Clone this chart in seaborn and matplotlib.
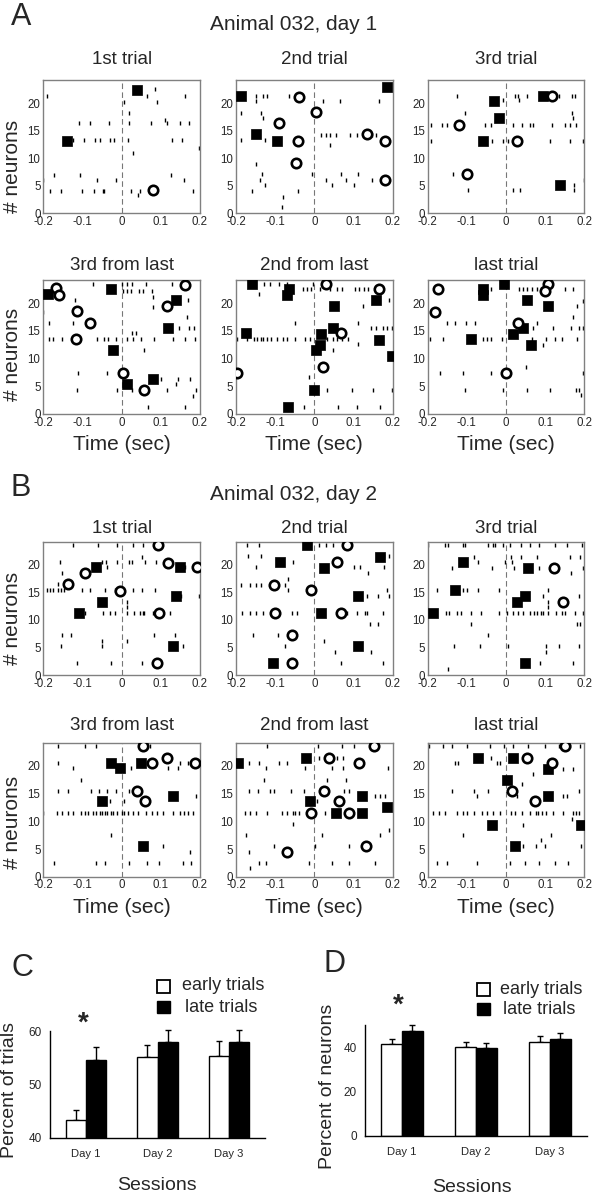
import numpy as np
import pandas as pd
import matplotlib
matplotlib.use("Agg")
import matplotlib.pyplot as plt
from matplotlib import font_manager
from matplotlib.patches import Rectangle
import seaborn as sns

# ---------------- data: raster panels (time in s, neuron #) ----------------
# A: Animal 032, day 1
A1_SQ = [(0.038, 22.4), (-0.14, 13.1)]
A1_CI = [(0.079, 4.1)]
A1_TK = {22.5: [0.086], 21.3: [-0.19, 0.064, 0.162], 20.2: [0.006, 0.091], 18.2: [0.018], 17.0: [0.11],
         16.3: [-0.109, -0.081, -0.032, 0.02, 0.075, 0.117, 0.149, 0.172],
         13.2: [-0.125, -0.096, -0.068, -0.054, -0.031, -0.02, 0.017, 0.128, 0.153],
         11.8: [0.198], 11.0: [0.03], 7.0: [-0.172, -0.106, 0.125], 6.0: [-0.2, -0.062, -0.014, 0.16],
         4.0: [-0.183, -0.155, -0.1, -0.07, -0.048, -0.045, 0.023, 0.047, 0.183], 3.2: [0.043]}

A2_SQ = [(-0.188, 21.3), (-0.15, 14.3), (-0.096, 13.1), (0.185, 23.0)]
A2_CI = [(-0.09, 16.3), (-0.042, 13.1), (-0.04, 21.1), (-0.047, 9.1), (0.004, 18.4), (0.135, 14.3),
         (0.18, 13.1), (0.18, 6.0)]
A2_TK = {21.3: [-0.149, -0.13, -0.122, -0.064], 20.3: [-0.149, 0.022, 0.065, 0.164], 18.2: [-0.188, -0.135],
         17.2: [-0.13], 14.2: [0.016, 0.031, 0.041, 0.055, 0.092, 0.109, 0.124, 0.146, 0.157],
         13.3: [-0.188, -0.126], 12.3: [0.041], 9.0: [-0.15], 7.1: [-0.133, -0.007, 0.067, 0.112],
         6.0: [-0.14, 0.031, 0.082, 0.146], 5.1: [-0.126, 0.045, 0.101], 4.0: [-0.16, -0.043],
         3.0: [-0.08], 1.1: [-0.083]}

A3_SQ = [(0.094, 21.3), (-0.03, 20.3), (-0.017, 17.2), (-0.06, 13.1), (0.138, 5.1)]
A3_CI = [(0.117, 21.3), (-0.119, 16.1), (0.029, 13.1), (-0.099, 7.1)]
A3_TK = {21.3: [-0.126, 0.023, 0.031, 0.053, 0.134, 0.168, 0.177], 20.5: [-0.009, 0.033],
         18.2: [-0.105, 0.168], 17.2: [0.172],
         16.1: [-0.192, -0.164, -0.15, -0.054, -0.039, 0.019, 0.04, 0.06, 0.07, 0.117, 0.151, 0.163, 0.179],
         13.1: [-0.192, -0.037, -0.007, 0.006, 0.111, 0.162, 0.197], 7.1: [-0.136], 6.0: [0.199],
         5.1: [0.174], 4.1: [-0.096, 0.017, 0.036, 0.174]}

A4_SQ = [(-0.187, 21.6), (-0.027, 22.5), (-0.023, 11.5), (0.013, 5.4), (0.079, 6.4), (0.139, 20.5), (0.119, 15.5)]
A4_CI = [(-0.168, 22.7), (-0.159, 21.5), (-0.115, 18.6), (-0.081, 16.4), (-0.117, 13.5), (0.003, 7.4),
         (0.057, 4.3), (0.115, 19.5), (0.162, 23.3)]
A4_TK = {23.5: [-0.074, 0.0, 0.013, 0.026, 0.062, 0.128, 0.166], 22.3: [0.004, 0.014, 0.023, 0.045, 0.055, 0.077],
         21.2: [0.081], 20.5: [-0.119, 0.17], 19.3: [0.081], 18.4: [-0.2], 17.5: [0.168], 16.5: [-0.185, -0.123],
         15.5: [0.147, 0.173, 0.185], 14.6: [0.026, 0.037],
         13.5: [-0.185, -0.174, -0.151, -0.062, -0.045, -0.034, -0.014, 0.013, 0.03, 0.049, 0.083, 0.13, 0.162, 0.187],
         11.5: [0.057], 7.4: [-0.111, -0.037], 6.4: [0.1, 0.145, 0.174], 5.4: [0.14],
         4.3: [-0.115, -0.013, 0.026, 0.115, 0.19], 3.3: [0.181], 1.3: [0.066, 0.162]}

A5_SQ = [(-0.158, 23.5), (-0.175, 14.6), (-0.064, 22.5), (-0.069, 21.5), (-0.066, 1.3), (0.157, 20.6),
         (0.051, 19.5), (0.048, 15.5), (0.016, 14.5), (0.014, 12.5), (0.004, 11.6), (0.164, 13.4),
         (0.199, 10.5), (-0.001, 4.3)]
A5_CI = [(-0.197, 7.4), (0.03, 23.5), (0.164, 22.5), (0.067, 14.6), (0.023, 8.5)]
A5_TK = {23.5: [-0.129, -0.113, -0.089, -0.071, -0.003],
         22.5: [-0.028, -0.02, -0.009, 0.014, 0.04, 0.057, 0.07, 0.104, 0.115, 0.127, 0.138],
         21.6: [-0.141], 20.5: [0.191], 19.5: [0.123], 16.5: [-0.049, 0.112],
         15.5: [0.144, 0.157, 0.175, 0.186, 0.197],
         13.5: [-0.197, -0.173, -0.154, -0.146, -0.137, -0.13, -0.122, -0.111, -0.095, -0.081, -0.071, -0.049,
                -0.024, -0.011, 0.032, 0.047, 0.057, 0.07, 0.087],
         12.7: [0.112], 11.6: [0.047], 6.6: [-0.013], 4.3: [0.032, 0.095, 0.149, 0.197],
         1.3: [-0.026, 0.061, 0.108, 0.168]}

A6_SQ = [(-0.06, 22.5), (-0.058, 21.5), (-0.004, 23.4), (0.054, 20.5), (0.106, 19.5), (0.044, 15.5),
         (0.017, 14.4), (-0.089, 13.5), (0.064, 12.5)]
A6_CI = [(-0.174, 22.5), (-0.181, 18.5), (0.106, 23.5), (0.1, 22.3), (0.031, 16.5), (0.0, 7.4)]
A6_TK = {22.5: [-0.039, 0.034, 0.043, 0.054, 0.066, 0.078, 0.089, 0.151, 0.17], 20.4: [0.197], 19.5: [0.18],
         17.5: [0.172], 16.5: [-0.151, -0.13, -0.102, -0.079, 0.08], 15.5: [0.068, 0.121, 0.165, 0.185, 0.197],
         13.5: [-0.194, -0.16, -0.06, -0.049, -0.039, -0.011, 0.066, 0.102, 0.125, 0.142, 0.18],
         12.5: [0.095], 8.5: [0.05], 7.4: [-0.169, -0.111, -0.038, 0.197],
         4.3: [-0.106, -0.009, 0.053, 0.111, 0.179, 0.185], 3.4: [0.191]}

# B: Animal 032, day 2
B1_SQ = [(0.149, 19.6), (-0.066, 19.6), (-0.051, 13.3), (0.138, 14.4), (-0.11, 11.3), (0.132, 5.2)]
B1_CI = [(0.094, 23.6), (0.119, 20.4), (0.193, 19.6), (-0.094, 18.5), (-0.138, 16.5), (-0.003, 15.3),
         (0.096, 11.3), (0.089, 2.2)]
B1_TK = {23.6: [-0.123, -0.06, -0.013, 0.028, 0.055], 21.4: [0.051],
         20.6: [-0.157, -0.049, -0.04, -0.013, 0.02, 0.026, 0.06, 0.088], 19.6: [-0.037, 0.162],
         18.5: [-0.151], 16.5: [-0.162],
         15.5: [-0.191, -0.183, -0.174, -0.162, -0.155, -0.146, -0.102, -0.081, -0.043, -0.017, 0.028, 0.051, 0.085],
         14.4: [0.151, 0.198], 13.3: [0.013], 12.4: [0.014],
         11.3: [-0.094, -0.047, -0.03, -0.017, 0.013, 0.031, 0.047, 0.054, 0.058, 0.079, 0.123],
         7.3: [-0.151, -0.129, 0.083, 0.137], 6.2: [-0.051, 0.013], 5.3: [-0.155, -0.051, 0.157],
         2.2: [-0.113, -0.026, 0.051]}

B2_SQ = [(-0.105, 2.2), (-0.088, 20.5), (-0.02, 23.6), (0.168, 21.5), (0.025, 19.5), (0.112, 14.4),
         (0.016, 11.3), (0.112, 5.2)]
B2_CI = [(-0.058, 2.2), (-0.058, 7.3), (-0.1, 11.3), (-0.103, 16.4), (0.083, 23.6), (0.059, 20.5),
         (-0.009, 15.5), (0.067, 11.3)]
B2_TK = {23.6: [-0.173, -0.141, 0.012, 0.03, 0.048], 21.6: [-0.17, -0.137, 0.178, 0.191], 20.5: [-0.055],
         19.6: [-0.15, 0.1, 0.116, 0.178], 18.5: [0.138], 17.4: [-0.066],
         16.4: [-0.186, -0.165, -0.15, -0.137, -0.074], 15.5: [-0.066, 0.185], 14.4: [0.134, 0.162, 0.191],
         11.3: [-0.184, -0.165, -0.148, -0.131, -0.058, -0.045, 0.083, 0.11, 0.129, 0.134, 0.176],
         9.3: [0.143, 0.162], 7.3: [-0.156, -0.092], 6.2: [0.025], 5.2: [-0.074], 4.2: [0.053, 0.144],
         2.2: [0.068, 0.175]}

B3_SQ = [(-0.111, 20.5), (-0.13, 15.5), (-0.187, 11.3), (0.057, 19.5), (0.049, 14.4), (0.029, 13.3), (0.049, 2.2)]
B3_CI = [(0.123, 19.5), (0.145, 13.3)]
B3_TK = {23.6: [-0.198, -0.157, -0.147, -0.111, -0.105, -0.045, -0.034, -0.028, -0.009, 0.01, 0.037, 0.061,
                0.085, 0.125, 0.155, 0.193],
         21.5: [-0.082, 0.012, 0.037, 0.08, 0.163, 0.189], 20.5: [-0.071, -0.003, 0.015],
         19.5: [-0.139, -0.037, 0.02, 0.085, 0.111, 0.197], 18.5: [0.165],
         15.5: [-0.175, -0.109, -0.1, -0.071, -0.017, 0.106], 14.4: [0.094, 0.185], 13.3: [0.108], 12.4: [0.106],
         11.3: [-0.153, -0.145, -0.126, -0.115, -0.09, -0.064, -0.017, 0.002, 0.019, 0.031, 0.043, 0.061, 0.071,
                0.08, 0.089, 0.095, 0.108, 0.128, 0.142, 0.151, 0.176, 0.196],
         9.3: [-0.09, 0.18, 0.19], 7.3: [-0.045], 5.3: [-0.133, -0.066, 0.006, 0.102, 0.136, 0.187],
         4.2: [0.102], 2.2: [0.087, 0.17], 1.1: [-0.149]}

B4_SQ = [(-0.028, 20.5), (-0.004, 19.6), (0.049, 20.5), (-0.049, 13.6), (0.13, 14.5), (0.054, 5.5)]
B4_CI = [(0.055, 23.6), (0.077, 20.5), (0.117, 21.5), (0.188, 20.5), (0.038, 15.5), (0.06, 13.6)]
B4_TK = {23.6: [-0.162, -0.094, -0.066, 0.072], 20.5: [-0.162, 0.064, 0.149, 0.17],
         19.6: [-0.123, 0.023, 0.119, 0.143], 17.5: [-0.104],
         15.5: [-0.162, -0.136, -0.079, -0.059, -0.038, -0.014, 0.02], 14.5: [0.191], 13.6: [-0.03, 0.006],
         11.5: [-0.2, -0.164, -0.151, -0.136, -0.125, -0.104, -0.094, -0.087, -0.072, -0.066, -0.055, -0.049,
                -0.043, -0.037, -0.028, -0.021, -0.013, 0.0, 0.006, 0.017, 0.03, 0.041, 0.062, 0.077, 0.089,
                0.106, 0.132, 0.149, 0.16, 0.17, 0.183],
         7.5: [-0.028], 5.5: [0.106], 4.5: [0.174],
         2.4: [-0.172, -0.066, -0.043, 0.02, 0.064, 0.096, 0.156, 0.177]}

B5_SQ = [(-0.194, 20.5), (-0.021, 21.5), (-0.011, 13.6), (0.055, 11.5), (0.121, 11.5), (0.121, 14.5), (0.185, 12.5)]
B5_CI = [(-0.069, 4.5), (0.037, 21.5), (0.115, 20.5), (0.151, 23.6), (0.025, 15.5), (0.062, 13.6),
         (-0.009, 11.5), (0.089, 11.5), (0.132, 5.5)]
B5_TK = {23.6: [-0.122, 0.01, 0.07, 0.101], 21.5: [0.012, 0.059, 0.074], 20.5: [-0.168, -0.142, -0.091, -0.069],
         19.6: [-0.123, -0.023, 0.044, 0.074, 0.189], 17.5: [-0.128, 0.032, 0.081],
         15.5: [-0.168, -0.145, -0.112, -0.104, -0.06, -0.027, 0.076, 0.089], 14.5: [0.155, 0.168, 0.181],
         13.6: [0.006],
         11.5: [-0.177, -0.164, -0.149, -0.122, -0.083, -0.071, -0.055, -0.049, -0.038, 0.027, 0.044],
         9.6: [-0.055], 8.5: [0.19], 7.5: [-0.174, 0.02, 0.168], 5.5: [-0.104, 0.002, 0.089], 4.5: [-0.168],
         2.4: [-0.142, -0.123, -0.013, 0.044, 0.089, 0.155], 1.5: [-0.165]}

B6_SQ = [(-0.071, 21.5), (0.019, 21.5), (0.106, 19.5), (0.003, 17.5), (0.106, 14.5), (-0.037, 9.4),
         (0.191, 9.4), (0.023, 5.5)]
B6_CI = [(0.151, 23.6), (0.053, 21.5), (0.117, 20.5), (0.014, 15.5), (0.074, 13.6)]
B6_TK = {23.6: [-0.196, -0.16, -0.139, -0.099, -0.041, -0.005, 0.019, 0.057, 0.1, 0.134, 0.163, 0.189],
         21.5: [-0.039], 20.5: [-0.13, -0.122, -0.024, -0.015], 19.5: [0.146, 0.172], 18.5: [0.07],
         16.7: [0.04], 15.5: [-0.139, -0.082, -0.047, 0.187], 14.5: [-0.075, 0.027, 0.146, 0.155],
         11.5: [-0.186, -0.17, -0.156, -0.124, -0.111, -0.099, -0.082, -0.062, -0.049, -0.034, -0.015, 0.012,
                0.023, 0.04, 0.061, 0.077, 0.082, 0.091, 0.102, 0.121, 0.146, 0.17, 0.179, 0.187],
         10.5: [0.168], 9.4: [0.044], 7.5: [-0.109, 0.114], 6.6: [0.089], 5.5: [0.043, 0.077, 0.1, 0.191],
         2.4: [-0.177, -0.151, -0.073, 0.009, 0.049, 0.083, 0.125, 0.159]}

TRIAL_TITLES = ["1st trial", "2nd trial", "3rd trial", "3rd from last", "2nd from last", "last trial"]
X_TICKS = [-0.2, -0.1, 0, 0.1, 0.2]
X_TICKLABELS = ["-0.2", "-0.1", "0", "0.1", "0.2"]
Y_TICKS = [0, 5, 10, 15, 20]

# ---------------- data: bar panels ----------------
SESSIONS = ["Day 1", "Day 2", "Day 3"]
GROUPS = ["early trials", "late trials"]
C_EARLY = [43.3, 55.1, 55.4]
C_LATE = [54.6, 57.9, 58.0]
C_EARLY_ERR = [1.9, 2.3, 2.7]
C_LATE_ERR = [2.5, 2.2, 2.25]
D_EARLY = [41.4, 40.0, 42.4]
D_LATE = [47.5, 39.7, 43.9]
D_EARLY_ERR = [2.2, 2.4, 2.6]
D_LATE_ERR = [2.3, 2.4, 2.3]

# ---------------- style ----------------
sns.set_style("white")
plt.rcParams["font.family"] = ["Liberation Sans", "DejaVu Sans"]
avail = {f.name for f in font_manager.fontManager.ttflist}
NARROW = "Liberation Sans Narrow" if "Liberation Sans Narrow" in avail else "Liberation Sans"
NARROW_SCALE = 1.0 if NARROW == "Liberation Sans Narrow" else 0.85

W, H = 602, 1200
fig = plt.figure(figsize=(W / 100, H / 100), dpi=100)


def fx(px):
    return px / W


def fy(py):
    return 1 - py / H


def raster(ax, sq, ci, tk, title, pad, xlabel):
    tk_df = pd.DataFrame([(x, y) for y, xs in tk.items() for x in xs], columns=["t", "n"])
    sq_df = pd.DataFrame(sq, columns=["t", "n"])
    ci_df = pd.DataFrame(ci, columns=["t", "n"])
    ax.axvline(0, color="#777777", lw=0.8, dashes=(5, 3), zorder=1)
    sns.scatterplot(data=tk_df, x="t", y="n", marker="|", s=12, color="black", linewidth=1.0, ax=ax, zorder=2)
    sns.scatterplot(data=sq_df, x="t", y="n", marker="s", s=62, color="black", edgecolor="black",
                    linewidth=0.5, ax=ax, zorder=3)
    sns.scatterplot(data=ci_df, x="t", y="n", marker="o", s=46, color="white", edgecolor="black",
                    linewidth=1.9, ax=ax, zorder=4)
    ax.set_xlim(-0.2, 0.2)
    ax.set_ylim(0, 24.2)
    ax.set_xticks(X_TICKS)
    ax.set_xticklabels(X_TICKLABELS)
    ax.set_yticks(Y_TICKS)
    ax.tick_params(labelsize=8.3, length=2, direction="in", color="#808080", pad=2)
    for s in ax.spines.values():
        s.set_color("#808080")
        s.set_linewidth(1.0)
    ax.set_title(title, fontsize=13.5, pad=pad)
    if xlabel:
        ax.set_xlabel("Time (sec)", fontsize=15, labelpad=4.5)
    else:
        ax.set_xlabel("")
    ax.set_ylabel("")


col_left = [43.3, 236.0, 427.7]
col_w = 156.7
rows = [  # (top px, bottom px, title pad, xlabel)
    (80, 213, 11.5, False),
    (280, 414, 7.5, True),
    (541.7, 675, 6.5, False),
    (742.7, 876.7, 9, True),
]
panels = [
    [(A1_SQ, A1_CI, A1_TK), (A2_SQ, A2_CI, A2_TK), (A3_SQ, A3_CI, A3_TK)],
    [(A4_SQ, A4_CI, A4_TK), (A5_SQ, A5_CI, A5_TK), (A6_SQ, A6_CI, A6_TK)],
    [(B1_SQ, B1_CI, B1_TK), (B2_SQ, B2_CI, B2_TK), (B3_SQ, B3_CI, B3_TK)],
    [(B4_SQ, B4_CI, B4_TK), (B5_SQ, B5_CI, B5_TK), (B6_SQ, B6_CI, B6_TK)],
]
for r, (top, bot, pad, xl) in enumerate(rows):
    for c in range(3):
        ax = fig.add_axes([fx(col_left[c]), fy(bot), fx(col_w), (bot - top) / H])
        sq, ci, tk = panels[r][c]
        raster(ax, sq, ci, tk, TRIAL_TITLES[(r % 2) * 3 + c], pad, xl)

for yc in [166, 354, 618, 822]:
    fig.text(fx(13), fy(yc), "# neurons", rotation=90, ha="center", va="center", fontsize=15)

fig.text(fx(21), fy(17), "A", fontsize=22, ha="center", va="center")
fig.text(fx(21), fy(488), "B", fontsize=22, ha="center", va="center")
fig.text(fx(294), fy(24), "Animal 032, day 1", fontsize=15, ha="center", va="center")
fig.text(fx(294), fy(494), "Animal 032, day 2", fontsize=15, ha="center", va="center")


# ---------------- bar panels ----------------
def bars(ax, early, late, e_err, l_err, ylim, yticks):
    df = pd.DataFrame({"session": SESSIONS * 2,
                       "group": [GROUPS[0]] * 3 + [GROUPS[1]] * 3,
                       "value": early + late})
    sns.barplot(data=df, x="session", y="value", hue="group", hue_order=GROUPS,
                palette={GROUPS[0]: "white", GROUPS[1]: "black"}, edgecolor="black", linewidth=1.0,
                width=0.56, errorbar=None, legend=False, ax=ax, zorder=2)
    errs = e_err + l_err
    for p, e in zip(ax.patches, errs):
        xc = p.get_x() + p.get_width() / 2
        ax.errorbar([xc], [p.get_height()], yerr=[[0], [e]], fmt="none", ecolor="black",
                    elinewidth=1.0, capsize=2.5, capthick=1.0, clip_on=False, zorder=1)
    ax.set_xlim(-0.5, 2.5)
    ax.set_ylim(*ylim)
    ax.set_yticks(yticks)
    ax.set_xticks([0, 1, 2])
    ax.set_xticklabels(SESSIONS, family=NARROW, fontsize=9.5 * NARROW_SCALE)
    ax.set_yticklabels([str(v) for v in yticks], family=NARROW, fontsize=10 * NARROW_SCALE)
    ax.set_xticks([0.5, 1.5, 2.5], minor=True)
    ax.tick_params(axis="x", which="major", length=0, pad=8)
    ax.tick_params(axis="x", which="minor", length=4, direction="out", width=1, color="black")
    ax.tick_params(axis="y", length=4, direction="out", width=1, color="black", pad=2)
    for s in ["top", "right"]:
        ax.spines[s].set_visible(False)
    for s in ["left", "bottom"]:
        ax.spines[s].set_color("black")
        ax.spines[s].set_linewidth(1.0)
    ax.set_xlabel("")
    ax.set_ylabel("")


axC = fig.add_axes([fx(50), fy(1138), fx(215), 107 / H])
bars(axC, C_EARLY, C_LATE, C_EARLY_ERR, C_LATE_ERR, (40, 60), [40, 50, 60])
axD = fig.add_axes([fx(365), fy(1136), fx(222), 111 / H])
bars(axD, D_EARLY, D_LATE, D_EARLY_ERR, D_LATE_ERR, (0, 50), [0, 20, 40])

fig.text(fx(10), fy(1090), "Percent of trials", rotation=90, ha="center", va="center", fontsize=14)
fig.text(fx(328), fy(1086), "Percent of neurons", rotation=90, ha="center", va="center", fontsize=14)
fig.text(fx(157), fy(1185), "Sessions", ha="center", va="center", fontsize=14)
fig.text(fx(472), fy(1188), "Sessions", ha="center", va="center", fontsize=14)
fig.text(fx(22), fy(968), "C", fontsize=22, ha="center", va="center")
fig.text(fx(335), fy(964), "D", fontsize=22, ha="center", va="center")
fig.text(fx(83), fy(1024), "*", fontsize=20, ha="center", va="center", fontweight="bold")
fig.text(fx(398), fy(1006), "*", fontsize=20, ha="center", va="center", fontweight="bold")

for (lx, ty1, ty2, tx) in [(157, 980, 1001, 182), (477, 983, 1003, 500)]:
    fig.patches.append(Rectangle((fx(lx), fy(ty1 + 13)), fx(13), 13 / H, transform=fig.transFigure,
                                 facecolor="white", edgecolor="black", linewidth=1.3))
    fig.patches.append(Rectangle((fx(lx), fy(ty2 + 12)), fx(13), 12 / H, transform=fig.transFigure,
                                 facecolor="black", edgecolor="black", linewidth=1.0))
    fig.text(fx(tx), fy(ty1 + 6), "early trials", fontsize=13, ha="left", va="center")
    fig.text(fx(tx + 3), fy(ty2 + 6), "late trials", fontsize=13, ha="left", va="center")

fig.savefig("out.png", dpi=100)
